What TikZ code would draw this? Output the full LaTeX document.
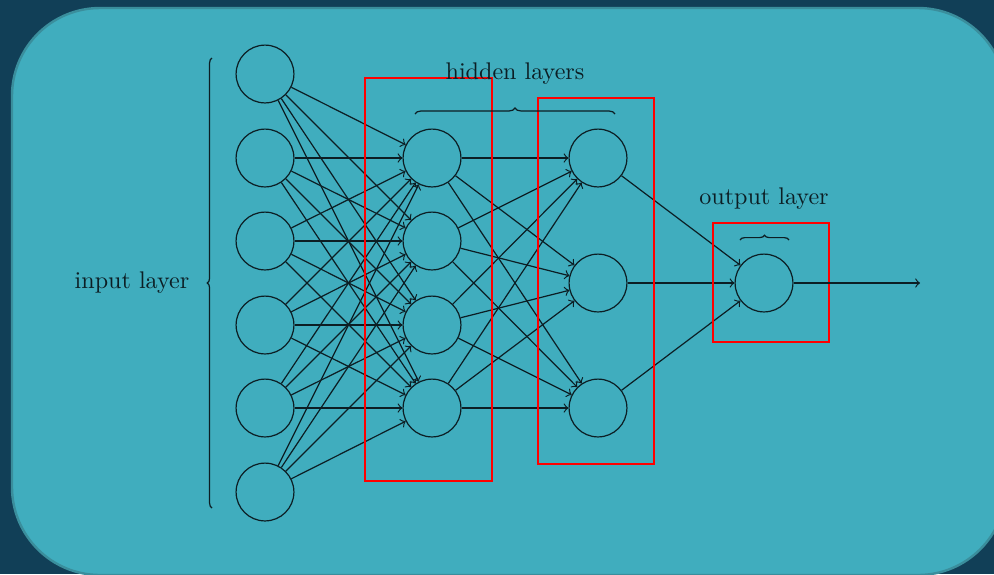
\documentclass[tikz,border=0pt]{standalone}
\usetikzlibrary{decorations.pathreplacing}
\definecolor{bgdark}{HTML}{113F57}
\definecolor{panel}{HTML}{40ADBE}
\definecolor{paneledge}{HTML}{3A8E9C}
\definecolor{ink}{HTML}{0C1E24}
\begin{document}
\begin{tikzpicture}[x=0.415pt,y=-0.415pt,
  neuron/.style={circle,draw=ink,line width=0.5pt,minimum size=24pt,inner sep=0pt},
  conn/.style={->,draw=ink,line width=0.5pt},
  layerbox/.style={draw=red,line width=0.52pt},
  bracestyle/.style={draw=ink,line width=0.5pt,decorate,decoration={brace,amplitude=#1}},
  lbl/.style={text=ink,inner sep=0pt}]
\useasboundingbox (0,0) rectangle (994,574);
\clip (0,0) rectangle (994,574);
\fill[bgdark] (0,0) rectangle (994,574);
\filldraw[fill=panel,draw=paneledge,line width=1pt,rounded corners=36.5pt] (12,8) rectangle (1006,575);
% neurons
\foreach \y [count=\k] in {74,158,241,325,408,492} \node[neuron] (i\k) at (265,\y) {};
\foreach \y [count=\k] in {158,241,325,408} \node[neuron] (h\k) at (432,\y) {};
\foreach \y [count=\k] in {158,283,408} \node[neuron] (g\k) at (598,\y) {};
\node[neuron] (o) at (764,283) {};
\coordinate (out) at (920,283);
% connections
\foreach \a in {1,...,6} \foreach \b in {1,...,4} \draw[conn] (i\a) -- (h\b);
\foreach \a in {1,...,4} \foreach \b in {1,...,3} \draw[conn] (h\a) -- (g\b);
\foreach \a in {1,...,3} \draw[conn] (g\a) -- (o);
% red boxes
\draw[layerbox] (365,78) rectangle (492,481);
\draw[layerbox] (538,98) rectangle (654,464);
\draw[layerbox] (713,223) rectangle (829,342);
\draw[conn] (o) -- (out);
% braces
\coordinate (ib1) at (212,508); \coordinate (ib2) at (212,58);
\draw[bracestyle=2pt] (ib1) -- (ib2);
\coordinate (hb1) at (415,114); \coordinate (hb2) at (615,114);
\draw[bracestyle=2.5pt] (hb1) -- (hb2);
\coordinate (ob1) at (740,240); \coordinate (ob2) at (789,240);
\draw[bracestyle=2pt] (ob1) -- (ob2);
% labels
\node[lbl] (linput) at (132,283) {input layer};
\node[lbl] (lhidden) at (515,74) {hidden layers};
\node[lbl] (loutput) at (764,199) {output layer};
\end{tikzpicture}
\end{document}
